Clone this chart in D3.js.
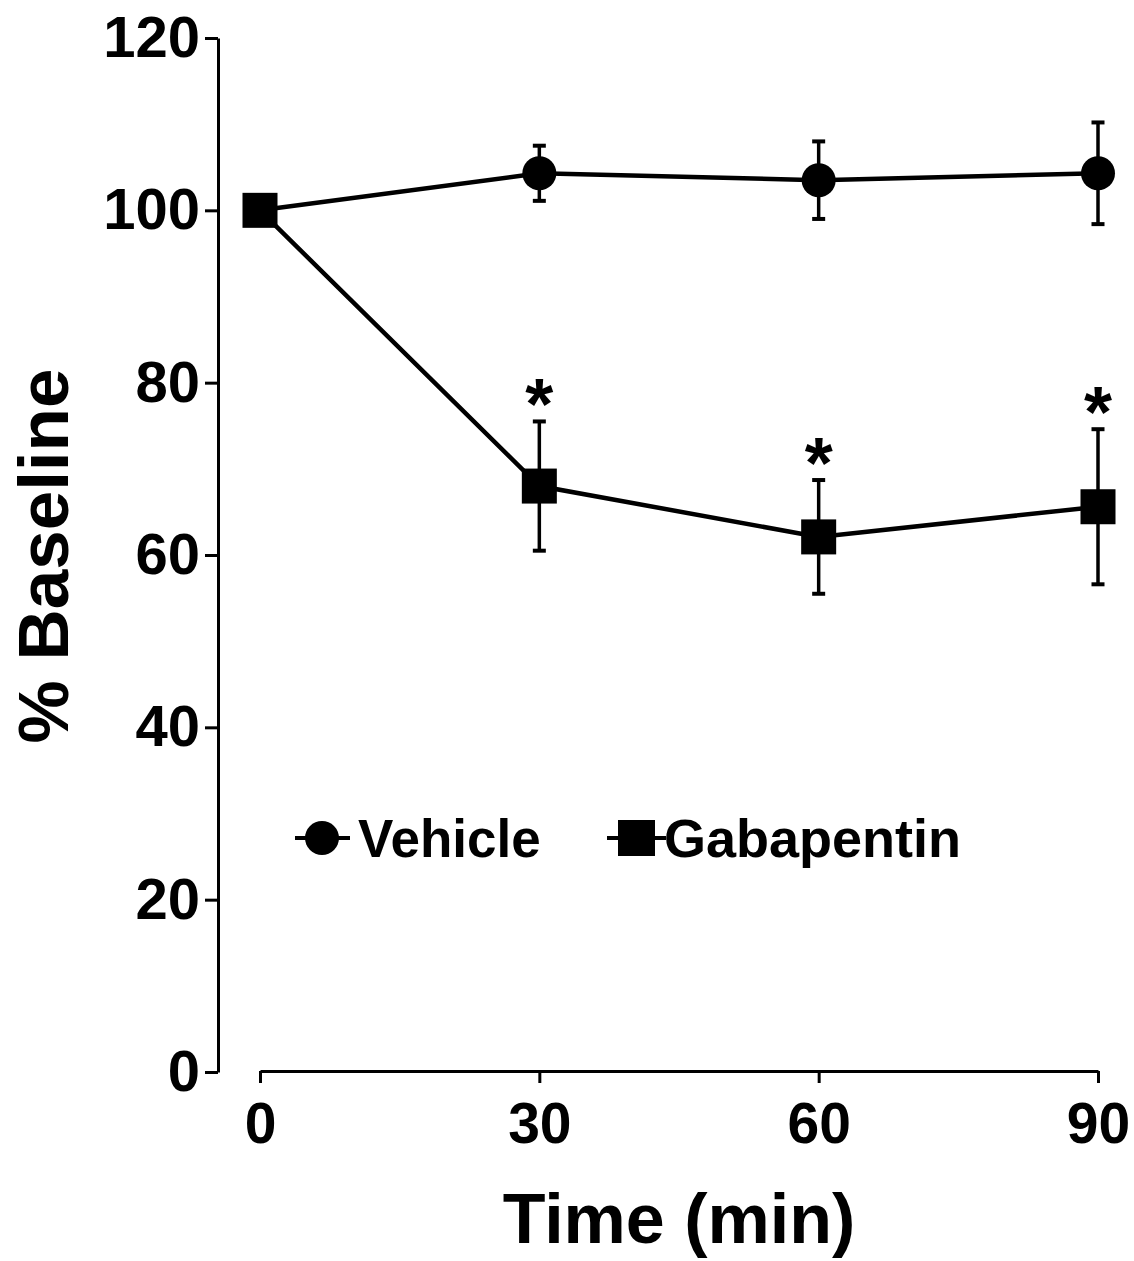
<!DOCTYPE html>
<html>
<head>
<meta charset="utf-8">
<script src="https://cdnjs.cloudflare.com/ajax/libs/d3/7.8.5/d3.min.js"></script>
<style>
  body { margin: 0; background: #fff; }
  text { font-family: "Liberation Sans", Arial, sans-serif; font-weight: bold; }
</style>
</head>
<body>
<div id="chart"></div>
<script>
// data
var times = [0, 30, 60, 90];
var vehicleMean = [100, 104.3, 103.5, 104.3];
var vehicleErr = [0, 3.2, 4.5, 5.9];
var gabaMean = [100, 68.0, 62.1, 65.6];
var gabaErr = [0, 7.5, 6.6, 9.0];
var gabaSig = [false, true, true, true]; // asterisks
var yTicks = [0, 20, 40, 60, 80, 100, 120];

function init(){
    var w = 1134, h = 1261;

    var svg = d3.select("#chart").append("svg")
                .attr("width", w)
                .attr("height", h);

    var x = d3.scaleLinear().domain([0, 90]).range([260, 1098]);
    var y = d3.scaleLinear().domain([0, 120]).range([1072, 38]);

    // y axis
    var yAxis = svg.append("g")
        .attr("transform", "translate(218,0)")
        .call(d3.axisLeft(y).tickValues(yTicks).tickSize(13).tickSizeOuter(0).tickPadding(5));
    yAxis.selectAll("path, line").attr("stroke", "#000").attr("stroke-width", 3);
    yAxis.selectAll("text").attr("font-size", 58).attr("fill", "#000")
        .style("font-family", "'Liberation Sans', Arial, sans-serif").style("font-weight", "bold");

    // x axis
    var xAxis = svg.append("g")
        .attr("transform", "translate(0,1071)")
        .call(d3.axisBottom(x).tickValues(times).tickSize(12).tickSizeOuter(0).tickPadding(20));
    xAxis.selectAll("path, line").attr("stroke", "#000").attr("stroke-width", 3);
    xAxis.selectAll("text").attr("font-size", 57).attr("fill", "#000")
        .style("font-family", "'Liberation Sans', Arial, sans-serif").style("font-weight", "bold");

    // axis titles
    svg.append("text")
        .attr("x", 679).attr("y", 1243)
        .attr("text-anchor", "middle")
        .attr("font-size", 70)
        .text("Time (min)");

    svg.append("text")
        .attr("transform", "translate(68,556) rotate(-90)")
        .attr("text-anchor", "middle")
        .attr("font-size", 71)
        .text("% Baseline");

    var line = d3.line()
        .x(function(d){ return x(d.t); })
        .y(function(d){ return y(d.m); });

    function series(means, errs){
        return times.map(function(t, i){ return {t: t, m: means[i], e: errs[i], i: i}; });
    }
    var veh = series(vehicleMean, vehicleErr);
    var gab = series(gabaMean, gabaErr);

    // error bars
    function errorBars(data){
        var g = svg.append("g");
        data.filter(function(d){ return d.e > 0; }).forEach(function(d){
            g.append("line")
                .attr("x1", x(d.t)).attr("x2", x(d.t))
                .attr("y1", y(d.m + d.e)).attr("y2", y(d.m - d.e))
                .attr("stroke", "#000").attr("stroke-width", 3.5);
            [d.m + d.e, d.m - d.e].forEach(function(v){
                g.append("line")
                    .attr("x1", x(d.t) - 6.5).attr("x2", x(d.t) + 6.5)
                    .attr("y1", y(v)).attr("y2", y(v))
                    .attr("stroke", "#000").attr("stroke-width", 4);
            });
        });
    }
    errorBars(veh);
    errorBars(gab);

    // lines
    svg.append("path").datum(veh).attr("d", line)
        .attr("fill", "none").attr("stroke", "#000").attr("stroke-width", 4.5);
    svg.append("path").datum(gab).attr("d", line)
        .attr("fill", "none").attr("stroke", "#000").attr("stroke-width", 4.5);

    // markers
    svg.selectAll("circle.veh")
        .data(veh.slice(1))
        .enter().append("circle")
        .attr("class", "veh")
        .attr("cx", function(d){ return x(d.t); })
        .attr("cy", function(d){ return y(d.m); })
        .attr("r", 17)
        .attr("fill", "#000");

    svg.selectAll("rect.gab")
        .data(gab)
        .enter().append("rect")
        .attr("class", "gab")
        .attr("x", function(d){ return x(d.t) - 17.5; })
        .attr("y", function(d){ return y(d.m) - 17.5; })
        .attr("width", 35).attr("height", 35)
        .attr("fill", "#000");

    // significance stars
    svg.selectAll("text.star")
        .data(gab.filter(function(d){ return gabaSig[d.i]; }))
        .enter().append("text")
        .attr("class", "star")
        .attr("x", function(d){ return x(d.t); })
        .attr("y", function(d){ return y(d.m + d.e) + 8; })
        .attr("text-anchor", "middle")
        .attr("font-size", 72)
        .text("*");

    // legend
    var leg = svg.append("g").attr("transform", "translate(0,838)");
    leg.append("line").attr("x1", 295).attr("x2", 350).attr("y1", 0).attr("y2", 0)
        .attr("stroke", "#000").attr("stroke-width", 4);
    leg.append("circle").attr("cx", 322).attr("cy", 0).attr("r", 17).attr("fill", "#000");
    leg.append("text").attr("x", 358).attr("y", 19).attr("font-size", 53).text("Vehicle");

    leg.append("line").attr("x1", 607).attr("x2", 666).attr("y1", 0).attr("y2", 0)
        .attr("stroke", "#000").attr("stroke-width", 4);
    leg.append("rect").attr("x", 618).attr("y", -18).attr("width", 37).attr("height", 36).attr("fill", "#000");
    leg.append("text").attr("x", 664).attr("y", 19).attr("font-size", 54).text("Gabapentin");
}
window.onload = init;
</script>
</body>
</html>
